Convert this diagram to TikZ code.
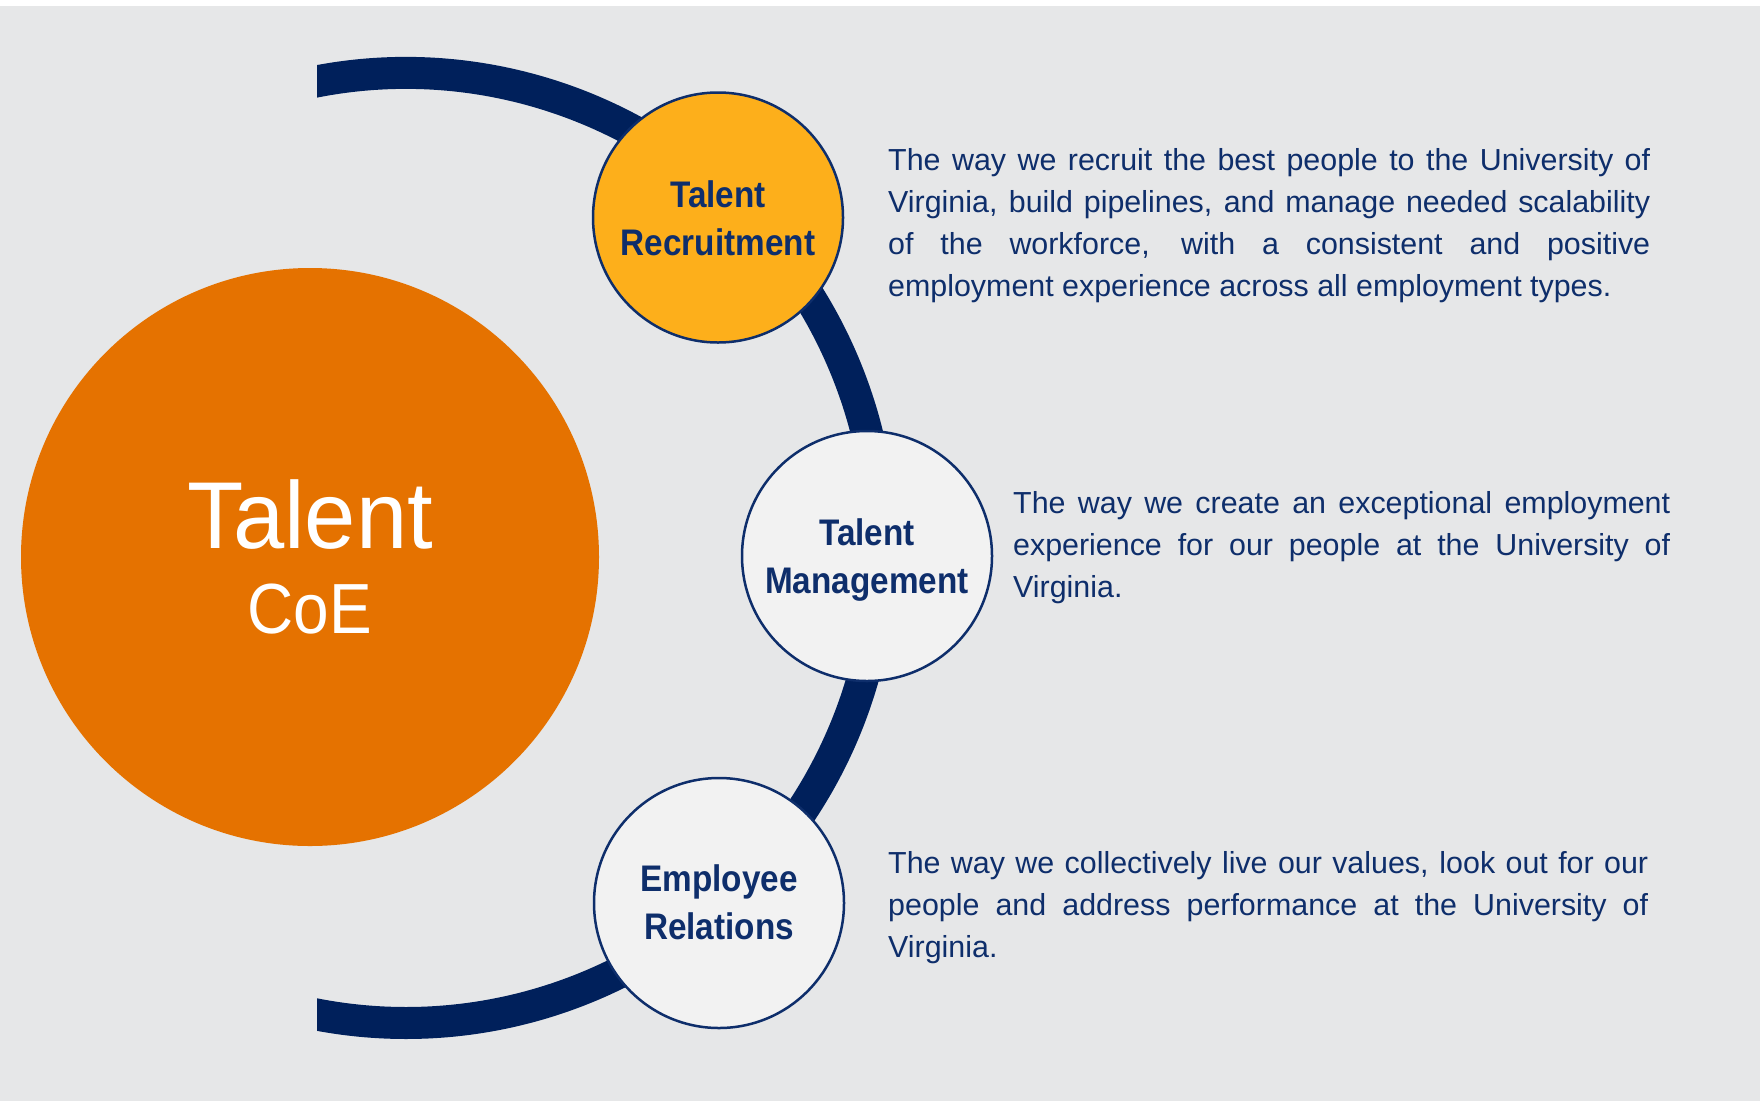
\documentclass[tikz,border=0pt]{standalone}
\usepackage{fontspec}
\setmainfont{Liberation Sans}
\newfontfamily\lblfont{Liberation Sans}[FakeStretch=0.9]
\newfontfamily\bigfont{Liberation Sans}[FakeStretch=0.9]
\newfontfamily\talentfont{Liberation Sans}[FakeStretch=0.97]
\definecolor{bgc}{HTML}{E6E7E8}
\definecolor{navyarc}{HTML}{00205B}
\definecolor{navytxt}{HTML}{0E2E6B}
\definecolor{coeorange}{HTML}{E57200}
\definecolor{goldc}{HTML}{FDAF1B}
\definecolor{lightc}{HTML}{F2F2F2}
\tikzset{
  arcline/.style={draw=navyarc, line width=32pt},
  bubble/.style={circle, draw=navytxt, line width=2.5pt, minimum size=250pt, inner sep=0pt},
  bubblelabel/.style={anchor=base, inner sep=0pt, text=navytxt, font=\lblfont\bfseries\fontsize{37}{44}\selectfont},
  coelabel/.style={anchor=base, inner sep=0pt, text=white},
  desc/.style={anchor=base west, inner sep=0pt, text=navytxt}
}
\newcommand{\descpar}[2]{\parbox[t]{#1}{\fontsize{30.4}{42}\selectfont\tolerance=10000\hbadness=10000\hyphenpenalty=10000\parindent=0pt #2}}
\begin{document}
\begin{tikzpicture}[x=1pt,y=-1pt]
\fill[white] (0,0) rectangle (1763,1101);
\fill[bgc] (0,6) rectangle (1760,1101);
\useasboundingbox (0,0) rectangle (1763,1101);

% navy arc
\begin{scope}
  \clip (317,0) rectangle (1100,1101);
  \draw[arcline] (406,548) ++(-112:475) arc[start angle=-112, end angle=112, radius=475];
\end{scope}

% big circle
\node[circle, fill=coeorange, minimum size=578pt, inner sep=0pt] (coe) at (310,557) {};
\node[coelabel, font=\talentfont\fontsize{95}{100}\selectfont] (coeA) at (310,548) {Talent};
\node[coelabel, font=\bigfont\fontsize{71}{76}\selectfont] (coeB) at (310,633) {CoE};

% bubbles
\node[bubble, fill=goldc] (tr) at (718,217.5) {};
\node[bubble, fill=lightc] (tm) at (867,556) {};
\node[bubble, fill=lightc] (er) at (719,903) {};

\node[bubblelabel] (trA) at (718,207) {Talent};
\node[bubblelabel] (trB) at (718,255) {Recruitment};
\node[bubblelabel] (tmA) at (867,545) {Talent};
\node[bubblelabel] (tmB) at (867,593) {Management};
\node[bubblelabel] (erA) at (719,891) {Employee};
\node[bubblelabel] (erB) at (719,939) {Relations};

% descriptions
\node[desc] (d1) at (888,170) {\descpar{762pt}{The way we recruit the best people to the University of\linebreak Virginia, build pipelines, and manage needed scalability\linebreak of the workforce, with a consistent and positive\linebreak employment experience across all employment types.}};
\node[desc] (d2) at (1013,513) {\descpar{657pt}{The way we create an exceptional employment\linebreak experience for our people at the University of\linebreak Virginia.}};
\node[desc] (d3) at (888,873) {\descpar{760pt}{The way we collectively live our values, look out for our\linebreak people and address performance at the University of\linebreak Virginia.}};
\end{tikzpicture}
\end{document}
